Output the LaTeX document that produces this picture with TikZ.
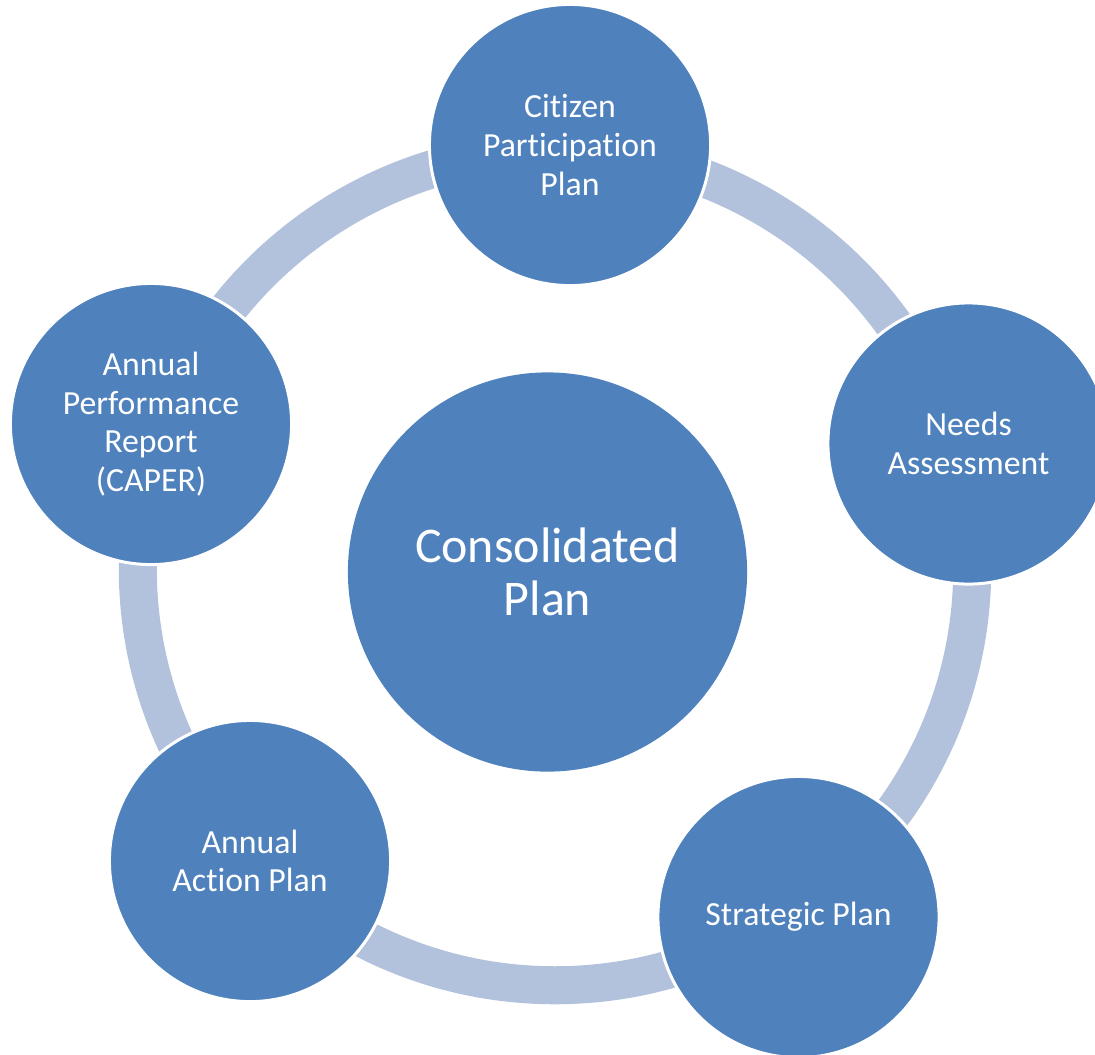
\documentclass[tikz,border=0pt]{standalone}
\usepackage{fontspec}
\setmainfont{Carlito}[Ligatures=NoCommon]
\definecolor{stageblue}{RGB}{79,129,189}
\definecolor{ringblue}{RGB}{178,193,220}
\tikzset{
  stage/.style = {shape=circle, fill=stageblue, draw=white,
                  line width=0.03cm, minimum size=2.81cm, inner sep=0pt,
                  align=center, text=white,
                  font=\fontsize{9.6}{11}\selectfont},
  hub/.style   = {stage, minimum size=3.99cm, draw=none,
                  font=\fontsize{14.2}{15.1}\selectfont},
  ring/.style  = {draw=ringblue, line width=0.38cm}
}
\begin{document}
\begin{tikzpicture}[x=0.01cm, y=-0.01cm]
  \useasboundingbox (0,0) rectangle (1095,1054);
  \clip (0,0) rectangle (1095,1054);
  % ring behind the stages
  \coordinate (ringc) at (555,568);
  \draw [ring] (ringc) circle [radius=4.17cm];
  % centre
  \node [hub] (conplan) at (547.5,572) {Consolidated\\Plan};
  % stages round the cycle
  \node [stage] (cpp)    at (570,145)   {Citizen\\Participation\\Plan};
  \node [stage] (needs)  at (968.5,443.5) {Needs\\Assessment};
  \node [stage] (strat)  at (798.5,917) {Strategic Plan};
  \node [stage] (action) at (250,861)   {Annual\\Action Plan};
  \node [stage] (caper)  at (151,424)   {Annual\\Performance\\Report\\(CAPER)};
\end{tikzpicture}
\end{document}
